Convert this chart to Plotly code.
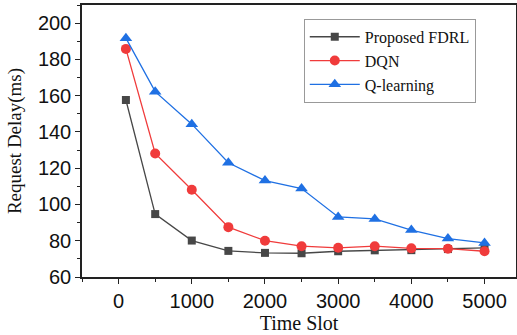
import plotly.graph_objects as go

time_slot = [100, 500, 1000, 1500, 2000, 2500, 3000, 3500, 4000, 4500, 5000]
fdrl = [157.6, 94.7, 80.1, 74.4, 73.3, 73.1, 74.2, 74.7, 74.8, 75.4, 76.1]
dqn = [185.8, 128.1, 108.1, 87.5, 80.0, 77.0, 76.1, 77.0, 75.8, 75.6, 74.2]
qlearn = [191.7, 162.2, 144.3, 123.0, 113.2, 108.8, 93.1, 92.0, 85.9, 81.2, 78.8]

names = ["Proposed FDRL", "DQN", "Q-learning"]
colors = ["#474747", "#f03b3b", "#1f70e3"]
symbols = ["square", "circle", "triangle-up"]
sizes = [8, 10, 11]

fig = go.Figure()
for name, ys, c, s, sz in zip(names, [fdrl, dqn, qlearn], colors, symbols, sizes):
    fig.add_trace(go.Scatter(
        x=time_slot, y=ys, name=name, mode="lines+markers",
        line=dict(color=c, width=1.3),
        marker=dict(symbol=s, size=sz, color=c),
    ))

axis_common = dict(
    showline=True, linecolor="#222", linewidth=1.5, mirror=True,
    ticks="outside", ticklen=5, tickwidth=1.3, tickcolor="#222",
    showgrid=False, zeroline=False, automargin=False,
    tickfont=dict(family="Liberation Sans, Arial", size=20, color="#111"),
)

fig.update_layout(
    width=517, height=335,
    margin=dict(l=82, r=1, t=5, b=58),
    plot_bgcolor="white", paper_bgcolor="white",
    xaxis=dict(range=[-500, 5430], tickvals=[0, 1000, 2000, 3000, 4000, 5000],
               minor=dict(tickvals=[-500, 500, 1500, 2500, 3500, 4500], ticks="outside", ticklen=3, tickcolor="#222"),
               title=dict(text="Time Slot", font=dict(family="Liberation Serif, Times New Roman", size=20, color="#111"), standoff=2),
               **axis_common),
    yaxis=dict(range=[60, 210], tickvals=[60, 80, 100, 120, 140, 160, 180, 200],
               minor=dict(dtick=10, ticks="outside", ticklen=3, tickcolor="#222"),
               title=dict(text="Request Delay(ms)", font=dict(family="Liberation Serif, Times New Roman", size=19, color="#111"), standoff=11),
               **axis_common),
    legend=dict(x=0.511, y=0.949, xanchor="left", yanchor="top",
                bordercolor="#999", borderwidth=1, bgcolor="white",
                font=dict(family="Liberation Serif, Times New Roman", size=16, color="#111"),
                tracegroupgap=0, itemwidth=50),
    showlegend=True,
)

fig.write_html("out.html", config={"displayModeBar": False},
               post_script="document.body.style.margin='0';")
